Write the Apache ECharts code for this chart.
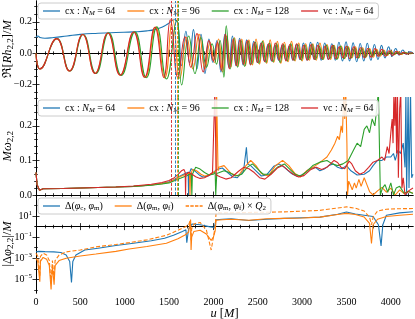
<!DOCTYPE html>
<html><head><meta charset="utf-8">
<script src="https://cdn.jsdelivr.net/npm/echarts@6/dist/echarts.min.js"></script>
<style>html,body{margin:0;padding:0;background:#fff}#c{width:415px;height:319px}</style>
</head><body><div id="c"></div><script>
// ---------------- DATA ----------------
const names = ['cx : N_M = 64', 'cx : N_M = 96', 'cx : N_M = 128', 'vc : N_M = 64'];
const names3 = ['Δ(φc, φm)', 'Δ(φm, φf)', 'Δ(φm, φf) × Q2'];
const xTicks = [0, 500, 1000, 1500, 2000, 2500, 3000, 3500, 4000];
const y1Ticks = [-0.2, 0.0, 0.2];
const y2Ticks = [0.0, 0.1, 0.2];
const y3TickExp = [-5, -3, -1, 1];
const mergerTimes = [1565, 1588, 1603, 1520]; // cx64, cx96, cx128, vc64

// panel 1: Re[R h22]/M
const p1_cx64 = [[0,0.1],[10,0.108],[22,0.11],[45,0.1],[100,0.095],[200,0.1],[350,0.11],[500,0.12],[700,0.127],[900,0.132],[1100,0.136],[1250,0.142],[1350,0.152],[1430,0.168],[1480,0.185],[1530,0.205],[1555,0.215],[1600,0.18],[1640,-0.08],[1690,0.14],[1730,-0.06],[1775,0.15],[1815,-0.1],[1860,0.12],[1905,-0.13],[1950,0.09],[1995,-0.06],[2040,0.08],[2085,-0.12],[2130,0.12],[2175,-0.09],[2215,0.11],[2255,-0.08],[2295,0.095],[2335,-0.075],[2375,0.085],[2415,-0.07],[2455,0.075],[2495,-0.06],[2535,0.065],[2575,-0.05],[2615,0.055],[2655,-0.05],[2695,0.05],[2735,-0.045],[2775,0.05],[2815,-0.04],[2855,0.045],[2895,-0.045],[2935,0.055],[2975,-0.04],[3015,0.065],[3055,-0.045],[3095,0.07],[3135,-0.04],[3175,0.07],[3215,-0.045],[3255,0.065],[3295,-0.04],[3335,0.06],[3375,-0.045],[3415,0.07],[3455,-0.05],[3495,0.072],[3535,-0.05],[3575,0.066],[3615,-0.055],[3655,0.062],[3695,-0.05],[3735,0.063],[3775,-0.045],[3815,0.055],[3855,-0.04],[3895,0.05],[3935,-0.03],[3975,0.04],[4015,-0.02],[4055,0.03],[4095,-0.012],[4135,0.02],[4175,-0.006],[4215,0.008],[4250,0.002]];
const p1_cx96 = [[0,0.0],[45,-0.1],[233,0.093],[377,-0.114],[527,0.119],[667,-0.129],[812,0.129],[952,-0.14],[1104,0.135],[1230,-0.155],[1348,0.166],[1452,-0.158],[1540,0.215],[1622,-0.16],[1700,0.1],[1768,-0.1],[1838,0.12],[1905,-0.1],[1962,0.07],[2012,-0.06],[2058,0.09],[2104,-0.12],[2150,0.11],[2196,-0.09],[2238,0.1],[2278,-0.085],[2319,0.09],[2360,-0.08],[2400,0.085],[2440,-0.075],[2481,0.09],[2520,-0.07],[2560,0.08],[2601,-0.065],[2640,0.085],[2680,-0.06],[2721,0.075],[2760,-0.065],[2800,0.07],[2841,-0.055],[2880,0.075],[2920,-0.05],[2961,0.065],[3000,-0.05],[3040,0.06],[3081,-0.045],[3120,0.06],[3160,-0.045],[3201,0.065],[3240,-0.04],[3280,0.055],[3321,-0.04],[3360,0.05],[3400,-0.035],[3441,0.045],[3480,-0.035],[3520,0.04],[3561,-0.03],[3600,0.04],[3640,-0.03],[3681,0.035],[3720,-0.025],[3760,0.03],[3801,-0.025],[3840,0.025],[3880,-0.02],[3921,0.02],[3960,-0.015],[4000,0.015],[4041,-0.01],[4080,0.01],[4120,-0.008],[4161,0.006],[4200,-0.004],[4250,0.0]];
const p1_cx128 = [[0,0.0],[45,-0.1],[235,0.093],[380,-0.114],[532,0.119],[675,-0.13],[820,0.13],[962,-0.142],[1115,0.136],[1243,-0.157],[1362,0.168],[1470,-0.165],[1585,0.21],[1642,-0.203],[1722,0.11],[1792,-0.13],[1860,0.1],[1922,-0.09],[1985,0.06],[2035,-0.07],[2075,0.08],[2118,-0.153],[2145,0.175],[2190,-0.1],[2232,0.095],[2272,-0.09],[2312,0.08],[2352,-0.085],[2393,0.075],[2432,-0.07],[2473,0.07],[2512,-0.065],[2553,0.075],[2592,-0.06],[2633,0.065],[2672,-0.055],[2713,0.06],[2752,-0.06],[2793,0.055],[2832,-0.05],[2873,0.06],[2912,-0.045],[2953,0.055],[2992,-0.045],[3033,0.05],[3072,-0.04],[3113,0.055],[3152,-0.04],[3193,0.045],[3232,-0.04],[3273,0.05],[3312,-0.035],[3353,0.05],[3392,-0.04],[3433,0.045],[3472,-0.035],[3513,0.04],[3552,-0.03],[3593,0.035],[3632,-0.03],[3673,0.03],[3712,-0.025],[3753,0.025],[3792,-0.02],[3833,0.02],[3872,-0.015],[3913,0.015],[3952,-0.012],[3993,0.01],[4032,-0.008],[4073,0.006],[4112,-0.005],[4153,0.004],[4200,-0.002],[4250,0.0]];
const p1_vc64 = [[0,0.0],[45,-0.1],[233,0.093],[377,-0.114],[527,0.119],[667,-0.129],[810,0.129],[949,-0.14],[1100,0.135],[1224,-0.154],[1340,0.165],[1440,-0.155],[1515,0.214],[1600,-0.155],[1680,0.105],[1745,-0.09],[1815,0.125],[1885,-0.12],[1950,0.08],[2000,-0.05],[2045,0.07],[2090,-0.11],[2135,0.12],[2180,-0.1],[2222,0.09],[2258,-0.08],[2300,0.085],[2338,-0.07],[2381,0.08],[2418,-0.075],[2462,0.07],[2497,-0.06],[2541,0.065],[2578,-0.055],[2622,0.06],[2660,-0.05],[2698,0.065],[2742,-0.045],[2779,0.06],[2818,-0.05],[2861,0.055],[2899,-0.045],[2938,0.06],[2981,-0.04],[3019,0.05],[3058,-0.045],[3102,0.055],[3139,-0.04],[3178,0.05],[3221,-0.035],[3259,0.045],[3298,-0.04],[3342,0.05],[3379,-0.035],[3418,0.04],[3461,-0.03],[3499,0.045],[3538,-0.035],[3582,0.04],[3619,-0.03],[3658,0.035],[3702,-0.03],[3739,0.03],[3778,-0.025],[3822,0.03],[3859,-0.02],[3898,0.025],[3941,-0.02],[3979,0.015],[4018,-0.015],[4062,0.012],[4099,-0.01],[4138,0.006],[4181,-0.005],[4220,0.003],[4250,0.0]];

// panel 2: M omega22
const p2_cx64 = [[0,0.065],[12,0.03],[40,0.014],[80,0.018],[300,0.019],[600,0.021],[900,0.023],[1100,0.025],[1300,0.029],[1420,0.034],[1500,0.038],[1560,0.045],[1620,0.054],[1680,0.062],[1715,0.066],[1720,0.0],[1725,0.06],[1748,0.076],[1790,0.07],[1840,0.058],[1880,0.052],[1940,0.055],[1990,0.063],[2040,0.074],[2100,0.078],[2160,0.065],[2220,0.052],[2270,0.05],[2340,0.07],[2372,0.138],[2385,0.09],[2420,0.085],[2480,0.07],[2540,0.055],[2600,0.058],[2680,0.083],[2740,0.09],[2800,0.08],[2880,0.062],[2940,0.054],[3000,0.058],[3080,0.075],[3150,0.08],[3200,0.07],[3250,0.075],[3300,0.085],[3350,0.09],[3400,0.08],[3450,0.076],[3500,0.085],[3550,0.07],[3620,0.058],[3700,0.06],[3760,0.07],[3800,0.085],[3850,0.1],[3900,0.1],[3950,0.11],[4000,0.11],[4030,0.12],[4050,0.1],[4080,0.13],[4110,0.12],[4140,0.15],[4160,0.08],[4170,0.3],[4178,0.0],[4195,0.3],[4205,0.02],[4222,0.3],[4235,0.05],[4250,0.06]];
const p2_cx96 = [[0,0.065],[12,0.03],[40,0.014],[80,0.018],[300,0.019],[600,0.021],[900,0.023],[1100,0.025],[1300,0.029],[1420,0.033],[1500,0.037],[1560,0.044],[1620,0.053],[1690,0.06],[1730,0.064],[1736,0.0],[1742,0.058],[1765,0.074],[1810,0.07],[1860,0.06],[1900,0.055],[1950,0.057],[2000,0.065],[2030,0.07],[2036,0.3],[2046,0.3],[2052,0.07],[2060,0.08],[2120,0.085],[2200,0.062],[2280,0.055],[2350,0.08],[2420,0.1],[2480,0.085],[2540,0.062],[2620,0.055],[2700,0.085],[2780,0.1],[2850,0.085],[2920,0.062],[2980,0.052],[3050,0.07],[3120,0.08],[3180,0.09],[3230,0.1],[3280,0.11],[3330,0.13],[3370,0.15],[3400,0.17],[3420,0.16],[3440,0.2],[3455,0.18],[3470,0.3],[3480,0.22],[3492,0.3],[3505,0.15],[3512,0.0],[3525,0.04],[3545,0.028],[3565,0.015],[3590,0.035],[3610,0.02],[3640,0.045],[3665,0.025],[3700,0.05],[3730,0.03],[3760,0.01],[3800,0.0],[3850,0.012],[3900,0.022],[3950,0.008],[4000,0.02],[4050,0.0],[4100,0.015],[4150,0.004],[4200,0.01],[4250,0.005]];
const p2_cx128 = [[0,0.065],[12,0.03],[40,0.014],[80,0.018],[300,0.019],[600,0.021],[900,0.023],[1100,0.025],[1300,0.028],[1420,0.032],[1500,0.035],[1560,0.041],[1620,0.048],[1700,0.056],[1750,0.062],[1757,0.0],[1763,0.06],[1800,0.08],[1850,0.075],[1900,0.065],[1950,0.058],[2000,0.06],[2020,0.066],[2026,0.0],[2032,0.0],[2038,0.062],[2060,0.065],[2120,0.07],[2180,0.065],[2250,0.055],[2320,0.06],[2380,0.08],[2440,0.09],[2500,0.075],[2560,0.06],[2640,0.06],[2720,0.08],[2800,0.09],[2860,0.075],[2920,0.06],[2980,0.055],[3040,0.065],[3120,0.085],[3200,0.095],[3280,0.1],[3340,0.09],[3400,0.085],[3460,0.09],[3520,0.1],[3580,0.13],[3620,0.15],[3660,0.14],[3700,0.19],[3730,0.2],[3760,0.18],[3790,0.22],[3820,0.2],[3845,0.26],[3860,0.3],[3876,0.3],[3882,0.0],[3905,0.02],[3935,0.03],[3965,0.008],[4000,0.035],[4030,0.0],[4060,0.02],[4100,0.025],[4150,0.005],[4200,0.01],[4250,0.004]];
const p2_vc64 = [[0,0.065],[12,0.03],[40,0.014],[80,0.018],[300,0.019],[600,0.021],[900,0.023],[1100,0.026],[1300,0.031],[1420,0.036],[1500,0.042],[1560,0.05],[1610,0.062],[1640,0.07],[1668,0.074],[1682,0.065],[1686,0.0],[1690,0.058],[1720,0.066],[1760,0.06],[1800,0.053],[1850,0.048],[1900,0.05],[1950,0.057],[1990,0.065],[2010,0.07],[2016,0.3],[2026,0.3],[2032,0.058],[2080,0.052],[2140,0.046],[2200,0.05],[2280,0.068],[2340,0.08],[2400,0.076],[2460,0.065],[2520,0.05],[2580,0.046],[2650,0.06],[2720,0.078],[2780,0.085],[2840,0.072],[2900,0.06],[2960,0.052],[3020,0.056],[3100,0.074],[3160,0.08],[3220,0.074],[3280,0.08],[3320,0.09],[3360,0.1],[3400,0.094],[3440,0.08],[3480,0.076],[3530,0.098],[3560,0.09],[3600,0.07],[3650,0.06],[3700,0.066],[3750,0.08],[3800,0.095],[3850,0.1],[3900,0.11],[3930,0.1],[3960,0.14],[3980,0.12],[4000,0.18],[4015,0.22],[4025,0.15],[4035,0.3],[4045,0.2],[4055,0.3],[4065,0.12],[4075,0.3],[4085,0.05],[4100,0.25],[4112,0.3],[4125,0.02],[4140,0.05],[4160,0.0],[4200,0.012],[4250,0.02]];

// panel 3: |Delta phi22|/M
const p3_cm = [[0,4e-3],[30,4.5e-3],[100,4.2e-3],[200,4e-3],[280,3.5e-3],[340,2e-3],[380,5e-4],[400,5e-6],[415,5e-4],[450,2e-3],[550,6e-3],[700,9e-3],[900,1.6e-2],[1100,2.6e-2],[1300,4.5e-2],[1450,8e-2],[1550,0.15],[1650,0.35],[1690,0.5],[1700,0.03],[1710,0.02],[1720,0.6],[1760,1.8],[1850,1.5],[1950,1.0],[2010,0.85],[2030,4.5],[2100,5],[2200,5.5],[2400,3.8],[2600,5],[2800,6],[3000,7],[3200,8],[3400,15],[3500,24],[3600,16],[3700,12],[3800,9],[3860,1.5],[3890,0.015],[3910,1.5],[3950,12],[4100,20],[4250,26]];
const p3_mf = [[0,1e-3],[20,5e-4],[35,6e-4],[43,6e-6],[50,5e-4],[80,1.2e-3],[120,8e-4],[150,2e-4],[170,1.1e-6],[185,2e-4],[195,2e-4],[204,3e-6],[215,2e-4],[260,6e-4],[340,1e-3],[500,1.6e-3],[675,2.5e-3],[900,4.5e-3],[1050,7.5e-3],[1250,1.3e-2],[1470,2.6e-2],[1600,7e-2],[1680,0.16],[1720,0.3],[1735,2],[1742,4],[1748,0.006],[1755,0.1],[1780,0.35],[1850,0.45],[1920,0.2],[1975,0.05],[2000,0.1],[2020,0.4],[2030,4],[2100,4.5],[2200,5],[2400,4],[2600,5.5],[2800,6],[3000,6.5],[3200,8],[3400,14],[3500,18],[3600,14],[3700,8],[3760,2],[3782,0.025],[3800,1.5],[3850,5],[3950,9],[4100,12],[4250,15]];
const p3_mfQ = [[0,3e-3],[20,1.5e-3],[35,1.8e-3],[43,2e-5],[50,1.5e-3],[80,3e-3],[120,2e-3],[150,6e-4],[170,4e-6],[185,6e-4],[195,6e-4],[204,1e-5],[215,6e-4],[260,2e-3],[340,4e-3],[500,6e-3],[675,1.2e-2],[900,2e-2],[1050,3e-2],[1250,5.5e-2],[1470,0.15],[1600,0.45],[1680,0.9],[1720,1.5],[1735,3],[1742,5],[1748,0.05],[1755,0.6],[1780,1.8],[1850,2.5],[1920,0.5],[1975,0.006],[2000,0.1],[2020,1],[2030,20],[2100,20],[2400,22],[2800,25],[3200,35],[3500,75],[3600,55],[3700,30],[3760,8],[3782,1.5],[3800,8],[3850,30],[3950,45],[4100,50],[4250,52]];

// ---------------- STYLE / LAYOUT ----------------
const FONT = '"Liberation Serif","DejaVu Serif",serif';
const COL = ['#1f77b4', '#ff7f0e', '#2ca02c', '#d62728'];
const XMAX = 4250;
const L = 36, W = 377;
const grids = [
  {left: L, top: 1, width: W, height: 96.5, outerBoundsMode: 'none', containLabel: false},
  {left: L, top: 97.5, width: W, height: 97.5, outerBoundsMode: 'none', containLabel: false},
  {left: L, top: 195, width: W, height: 98, outerBoundsMode: 'none', containLabel: false}
];
const rich = {
  n: {fontFamily: FONT, fontSize: 10, color: '#000', lineHeight: 12},
  i: {fontFamily: FONT, fontSize: 10, fontStyle: 'italic', color: '#000', lineHeight: 12},
  s: {fontFamily: FONT, fontSize: 7, color: '#000', lineHeight: 8, padding: [5, 0, 0, 0]},
  si: {fontFamily: FONT, fontSize: 7, fontStyle: 'italic', color: '#000', lineHeight: 8, padding: [5, 0, 0, 0]},
  p: {fontFamily: FONT, fontSize: 7, color: '#000', lineHeight: 8, padding: [0, 0, 6, 0]}
};
const richName = {
  n: {fontFamily: FONT, fontSize: 12.5, color: '#000', lineHeight: 15},
  i: {fontFamily: FONT, fontSize: 12.5, fontStyle: 'italic', color: '#000', lineHeight: 15},
  s: {fontFamily: FONT, fontSize: 9, color: '#000', lineHeight: 10, padding: [6, 0, 0, 0]}
};
const LEG = {
  'cx : N_M = 64': '{n|cx : }{i|N}{si|M}{n| = 64}',
  'cx : N_M = 96': '{n|cx : }{i|N}{si|M}{n| = 96}',
  'cx : N_M = 128': '{n|cx : }{i|N}{si|M}{n| = 128}',
  'vc : N_M = 64': '{n|vc : }{i|N}{si|M}{n| = 64}',
  'Δ(φc, φm)': '{n|Δ(}{i|φ}{s|c}{n|, }{i|φ}{s|m}{n|)}',
  'Δ(φm, φf)': '{n|Δ(}{i|φ}{s|m}{n|, }{i|φ}{s|f}{n|)}',
  'Δ(φm, φf) × Q2': '{n|Δ(}{i|φ}{s|m}{n|, }{i|φ}{s|f}{n|) × }{i|Q}{s|2}'
};
const ICON_SOLID = 'path://M0,0H40V3H0Z';
const ICON_DASH = 'path://M0,0H8V3H0Z M11,0H19V3H11Z M22,0H30V3H22Z M33,0H40V3H33Z';
function minorOf(a, b, step, majors) {
  const r = [];
  for (let k = Math.round(a / step); k * step <= b + 1e-9; k++) {
    const v = +(k * step).toFixed(6);
    if (!majors.some(m => Math.abs(m - v) < 1e-9)) r.push(v);
  }
  return r;
}
const xMinor = minorOf(0, XMAX, 100, xTicks);
const tickLS = {color: '#000', width: 0.8};
const xAxes = [], yAxes = [];
function addAxes(g, ymin, ymax, yMaj, yMin, yFmt, yName) {
  const xb = {gridIndex: g, type: 'value', min: 0, max: XMAX, splitLine: {show: false}, axisLabel: {show: false}};
  const line = {show: true, lineStyle: {color: '#000', width: 1}};
  xAxes.push(Object.assign({}, xb, {position: 'bottom', axisLine: line,
    axisTick: {show: true, inside: true, length: 3.5, customValues: xTicks, lineStyle: tickLS},
    axisLabel: {show: g === 2, customValues: xTicks, margin: 4, formatter: v => String(v), fontFamily: FONT, fontSize: 10, color: '#000'},
    name: g === 2 ? '{i|u}{n| [}{i|M}{n|]}' : '', nameLocation: 'middle', nameGap: 13, nameMoveOverlap: false,
    nameTextStyle: {rich: richName}}));
  xAxes.push(Object.assign({}, xb, {position: 'bottom', axisLine: {show: false},
    axisTick: {show: true, inside: true, length: 1.8, customValues: xMinor, lineStyle: tickLS}}));
  xAxes.push(Object.assign({}, xb, {position: 'top', axisLine: line,
    axisTick: {show: true, inside: true, length: 3.5, customValues: xTicks, lineStyle: tickLS}}));
  xAxes.push(Object.assign({}, xb, {position: 'top', axisLine: {show: false},
    axisTick: {show: true, inside: true, length: 1.8, customValues: xMinor, lineStyle: tickLS}}));
  const yb = {gridIndex: g, type: 'value', min: ymin, max: ymax, splitLine: {show: false}, axisLabel: {show: false}};
  yAxes.push(Object.assign({}, yb, {position: 'left', axisLine: line,
    axisTick: {show: true, inside: true, length: 3.5, customValues: yMaj, lineStyle: tickLS},
    axisLabel: {show: true, customValues: yMaj, margin: 4, formatter: yFmt, fontFamily: FONT, fontSize: 10, color: '#000', rich: rich},
    name: yName, nameLocation: 'middle', nameRotate: 90, nameGap: 21, nameMoveOverlap: false, nameTextStyle: {rich: richName}}));
  yAxes.push(Object.assign({}, yb, {position: 'left', axisLine: {show: false},
    axisTick: {show: true, inside: true, length: 1.8, customValues: yMin, lineStyle: tickLS}}));
  yAxes.push(Object.assign({}, yb, {position: 'right', axisLine: line,
    axisTick: {show: true, inside: true, length: 3.5, customValues: yMaj, lineStyle: tickLS}}));
  yAxes.push(Object.assign({}, yb, {position: 'right', axisLine: {show: false},
    axisTick: {show: true, inside: true, length: 1.8, customValues: yMin, lineStyle: tickLS}}));
}
const fmtDec = v => (v < 0 ? '−' : '') + Math.abs(v).toFixed(1);
addAxes(0, -0.283, 0.333, y1Ticks, minorOf(-0.25, 0.3, 0.05, y1Ticks), fmtDec, '{n|ℜ[}{i|Rh}{s|2,2}{n|]/}{i|M}');
addAxes(1, 0, 0.282, y2Ticks, minorOf(0.02, 0.28, 0.02, y2Ticks), fmtDec, '{i|Mω}{s|2,2}');
addAxes(2, -6.3, 3.0, y3TickExp, [-6, -4, -2, 0, 2], v => '{n|10}{p|' + (v < 0 ? '−' : '') + Math.abs(v) + '}', '{n||Δ}{i|φ}{s|2,2}{n||/}{i|M}');

const series = [];
const p1 = [p1_cx64, p1_cx96, p1_cx128, p1_vc64];
const p2 = [p2_cx64, p2_cx96, p2_cx128, p2_vc64];
function ml(i) {
  return {symbol: ['none', 'none'], silent: true, label: {show: false}, animation: false,
    lineStyle: {type: [3, 1.5], width: 0.9, color: COL[i]}, emphasis: {disabled: true},
    data: [{xAxis: mergerTimes[i]}]};
}
[0, 1].forEach(g => {
  const src = g === 0 ? p1 : p2;
  src.forEach((d, i) => series.push({
    type: 'line', name: names[i], xAxisIndex: g * 4, yAxisIndex: g * 4, data: d,
    showSymbol: false, symbol: 'none', smooth: g === 0 ? 0.5 : false, animation: false,
    lineStyle: {color: COL[i], width: 1.1}, itemStyle: {color: COL[i]}, markLine: ml(i)
  }));
});
const p3 = [p3_cm, p3_mf, p3_mfQ];
const c3 = [COL[0], COL[1], COL[1]];
p3.forEach((d, i) => series.push({
  type: 'line', name: names3[i], xAxisIndex: 8, yAxisIndex: 8,
  data: d.map(p => [p[0], Math.log10(p[1])]),
  showSymbol: false, symbol: 'none', smooth: false, animation: false,
  lineStyle: {color: c3[i], width: 1.1, type: i === 2 ? [4, 2] : 'solid'}, itemStyle: {color: c3[i]}
}));

const legBase = {show: true, orient: 'horizontal', itemWidth: 17, itemHeight: 1.3, itemGap: 12,
  backgroundColor: 'rgba(255,255,255,0.85)', borderColor: '#cccccc', borderWidth: 1, borderRadius: 3,
  padding: [2, 5, 2, 5], textStyle: {fontFamily: FONT, fontSize: 10, color: '#000', rich: rich},
  formatter: n => LEG[n] || n, selectedMode: false};
const legItems = (arr, dashedIdx) => arr.map((n, k) => ({name: n, icon: k === dashedIdx ? ICON_DASH : ICON_SOLID}));
const option = {
  animation: false,
  backgroundColor: '#fff',
  grid: grids,
  xAxis: xAxes,
  yAxis: yAxes,
  legend: [
    Object.assign({}, legBase, {left: 38, top: 3, data: legItems(names, -1)}),
    Object.assign({}, legBase, {left: 38, top: 100, data: legItems(names, -1)}),
    Object.assign({}, legBase, {left: 38, top: 198, data: legItems(names3, 2)})
  ],
  series: series
};
const chart = echarts.init(document.getElementById('c'), null, {renderer: 'canvas'});
chart.setOption(option);
</script></body></html>
